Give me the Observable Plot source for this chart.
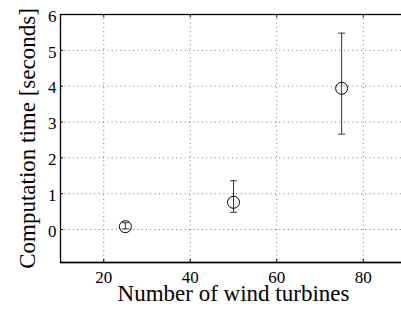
<!DOCTYPE html>
<html>
<head>
<meta charset="utf-8">
<script src="https://cdn.jsdelivr.net/npm/d3@7"></script>
<script src="https://cdn.jsdelivr.net/npm/@observablehq/plot@0.6"></script>
<style>
  html, body { margin: 0; padding: 0; background: #fff; }
  svg { overflow: hidden; }
</style>
</head>
<body>
<div id="chart"></div>
<script>
const turbines = [25, 50, 75];
const meanTime = [0.08, 0.76, 3.94];
const lowTime = [0.02, 0.48, 2.66];
const highTime = [0.19, 1.36, 5.48];
const xTicks = [20, 40, 60, 80];
const yTicks = [0, 1, 2, 3, 4, 5, 6];
const xLabel = "Number of wind turbines";
const yLabel = "Computation time [seconds]";

const data = turbines.map((x, i) => ({x, y: meanTime[i], lo: lowTime[i], hi: highTime[i]}));
const capHalf = 0.8;
const yMin = -0.92, yMax = 6;
const tickLen = 0.09;
const serif = "'Liberation Serif', 'Times New Roman', serif";

const chart = Plot.plot({
  width: 401,
  height: 309,
  marginLeft: 60,
  marginRight: -5,
  marginTop: 14,
  marginBottom: 47,
  style: {fontFamily: serif, fontSize: "17px", background: "#fff", color: "#000"},
  x: {domain: [10, 90], axis: null},
  y: {domain: [yMin, yMax], axis: null},
  marks: [
    Plot.gridX(xTicks, {stroke: "#777", strokeOpacity: 1, strokeDasharray: "1,3.3"}),
    Plot.gridY(yTicks, {stroke: "#777", strokeOpacity: 1, strokeDasharray: "1,3.3"}),
    Plot.ruleX(xTicks, {y1: yMin, y2: yMin + tickLen, stroke: "#000"}),
    Plot.ruleX(xTicks, {y1: yMax, y2: yMax - tickLen, stroke: "#000"}),
    Plot.ruleY(yTicks, {x1: 10, x2: 10.7, stroke: "#000"}),
    Plot.frame({stroke: "#000", strokeWidth: 1.3}),
    Plot.ruleY([yMin], {stroke: "#000", strokeWidth: 1.6}),
    Plot.text(xTicks, {x: d => d, frameAnchor: "bottom", lineAnchor: "top", dy: 8.9, fontSize: 17, fontFamily: serif, fill: "#000", text: d => String(d)}),
    Plot.text(yTicks, {y: d => d, frameAnchor: "left", textAnchor: "end", lineAnchor: "middle", dx: -4, dy: 1.8, fontSize: 17, fontFamily: serif, fill: "#000", text: d => String(d)}),
    Plot.ruleX(data, {x: "x", y1: "lo", y2: "hi", stroke: "#333", strokeWidth: 1}),
    Plot.link(data, {x1: d => d.x - capHalf, x2: d => d.x + capHalf, y1: "hi", y2: "hi", stroke: "#333", strokeWidth: 1}),
    Plot.link(data, {x1: d => d.x - capHalf, x2: d => d.x + capHalf, y1: "lo", y2: "lo", stroke: "#333", strokeWidth: 1}),
    Plot.dot(data, {x: "x", y: "y", r: 6, stroke: "#000", fill: "none", strokeWidth: 1}),
    Plot.text([xLabel], {frameAnchor: "bottom", lineAnchor: "middle", dy: 31.6, fontSize: 23, fontFamily: serif, textAnchor: "middle", fill: "#000"}),
    Plot.text([yLabel], {frameAnchor: "left", lineAnchor: "middle", rotate: -90, dx: -32.5, fontSize: 23, fontFamily: serif, textAnchor: "middle", fill: "#000"})
  ]
});
document.getElementById("chart").appendChild(chart);
</script>
</body>
</html>
